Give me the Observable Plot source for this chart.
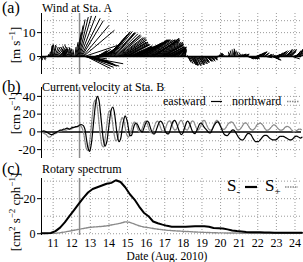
<!DOCTYPE html>
<html>
<head>
<meta charset="utf-8">
<script src="https://cdn.jsdelivr.net/npm/d3@7"></script>
<script src="https://cdn.jsdelivr.net/npm/@observablehq/plot@0.6"></script>
<style>
  html, body { margin: 0; padding: 0; background: #fff; }
  #fig { position: relative; width: 303px; height: 262px; overflow: hidden;
         font-family: "Liberation Serif", "DejaVu Serif", serif; }
  #fig svg { position: absolute; left: 0; }
</style>
</head>
<body>
<div id="fig"></div>
<script>
// ---- time base: records start Aug 10, 09:00 (day-of-month units)
const startDay = 10.375;
const windStep = 1 / 24;     // hourly wind
const currentStep = 1 / 12;  // 2-hourly current

// Wind at Sta. A, eastward (u) component [m/s], one row per 24 h
const windU = [
  -1, 0, 1, 1, 0.5, 0, 0, 0.5, 0.5, 0, 0.5, 1, 0.5, 0.5, 0.5, 1, 1, 1.5, 2, 2.5, 3, 3.5, 3.5, 3,
  3, 3, 2.5, 2, 1.5, 0, -1, -1.5, -2, -2.5, -3, -2.5, -2, -1.5, -1, -1, -1.5, -1, -0.5, 0.5, 1, 2, 2.5, 3,
  4, 5, 6.5, 8, 9, 11, 13, 15, 16, 14, 10, 11, 12, 11, 10, 9, 8, 7, 6, 5.5, 5, 5, 5, 4.5,
  4, 4.5, 5, 6, 6, 5, 5, 5, 5, 5.5, 5, 5.5, 6, 6.5, 7, 7.5, 8, 8, 8, 8.5, 9, 9, 9, 9.5,
  10, 10, 10, 10.5, 11, 11, 11, 10, 10, 10.5, 10, 10, 10, 9.5, 9, 9.5, 10, 9.5, 9, 9, 9, 9.5, 10, 9,
  8, 8.5, 9, 9, 9, 9, 9, 9.5, 10, 10, 10, 10, 10, 10, 10, 10, 10, 10.5, 11, 11, 11, 10.5, 10, 10.5,
  11, 10.5, 10, 10, 10, 9.5, 9, 9.5, 10, 9.5, 9, 9, 9, 8.5, 8, 8, 8, 7.5, 7, 7, 7, 6.5, 6, 6,
  6, 5.5, 5, 5, 5, 4.5, 4, 3.5, 3, 3, 3, 2.5, 2, 1.5, 1, 1, 1, 0.5, 0, 0.5, 1, 1, 1, 1.5,
  2, 2, 2, 2, 2, 1.5, 1.5, 2, 2, 2, 2.5, 2, 2, 2, 1.5, 2, 2, 2, 2, 1.5, 1.5, 2, 2, 1.5,
  1, 1.5, 2, 1.5, 1, 1, 1.5, 1, 1, 0.5, 0.5, 0, 0, 0.5, 1, 1, 1, 0, -1, -0.5, 0, 0, 0.5, 1,
  1, 0.5, 0, -0.5, -1, -0.5, 0, 0.5, 1, 0, -0.5, 0, 0.5, 1, 1, 1.5, 1.5, 2, 2, 1.5, 1.5, 2, 2, 1.5,
  1, 1.5, 2, 2, 2, 2.5, 3, 2.5, 2, 2, 2.5, 2, 2, 2, 2, 2.5, 2.5, 2, 2, 2, 2, 2, 1.5, 2,
  2, 2.5, 2.5, 1.5, 1, 1, 1, 1.5, 2, 2.5, 3, 3, 3, 2, 1, 1.5, 2, 2, 2, 2.5, 2.5, 2, 2, 2,
  2.5, 3, 3, 2.5, 2, 2, 2, 2.5, 3, 2.5, 2, 2.5, 3, 2.5, 2, 2, 2, 1.5, 1.5, 2, 2, 1.5, 1, 1,
  1
];
// Wind at Sta. A, northward (v) component [m/s], one row per 24 h
const windV = [
  -1.2, -1.5, -1.5, -1, -0.5, 0, 0.3, 0.5, 0.5, 1, 2, 3.5, 4.5, 5, 5, 4.8, 4.5, 4, 4, 3.8, 3.5, 3, 3, 3.2,
  3, 2.8, 2.5, 2, 1.5, 1, 1, 2, 2.5, 3.5, 4, 4.5, 5, 4, 3, 3.5, 4, 3.5, 3, 4, 6, 10, 13, 15.5,
  16.5, 17, 17, 16, 15, 13, 11, 5, -3, -4, -5, -4.5, -4, -3.5, -3, -3, -2.5, -2, -1, 0, 1, 1.5, 2, 2,
  2.5, 2.5, 3, 2.5, 2, 2.5, 3, 3, 3, 3.5, 4, 5, 6, 7, 8, 9, 9.5, 10, 10.5, 10.5, 10, 10, 10, 9.5,
  9, 9, 8.5, 8, 8, 7.5, 7, 6.5, 6, 6, 6, 5.5, 5, 5, 5, 5, 4.5, 4, 4, 4, 4, 4, 4, 4,
  4, 4.5, 4.5, 5, 5, 5, 5.5, 6, 6, 6, 6.5, 7, 7, 7, 7, 7, 7, 7, 7, 7, 6.5, 6, 6, 6.5,
  7, 7.5, 7.5, 7.5, 7, 6.5, 6, 6, 6, 5.5, 5, 5, 5, 5, 4.5, 4, 4, 4, 4, 3.5, 3.5, 3, 3, 3,
  3, 3, 3.5, 4, 4, 3.5, 3, 3, 3, 2.5, 2, 2.5, 3, 3.5, 4, 3.5, 3, 2.5, 2, 0.5, -1, -2, -2.5, -3,
  -3, -3.5, -3.5, -3.8, -3.8, -3.5, -3.5, -3.8, -3.8, -3.2, -3, -3.5, -3.5, -3, -2.5, -3, -3, -2.5, -2, -2.5, -2.5, -2, -2, -2,
  -1.5, -2, -2, -1.5, -1.5, -1, -1, -1.5, -1.5, -1, -0.5, 0, 0.5, 1, 1.5, 1, 1, 1.5, 1.5, 1, 0.5, 0.5, 0.5, 0.5,
  0.3, 0.5, 1, 1.5, 2, 2.5, 3, 2.5, 2, 3, 3.3, 2.5, 2, 1.5, 1, 1, 0.8, 1, 1, 1, 0.8, 1, 1, 0.8,
  0.5, 0, -0.5, -1, -1, -1, -1, -1, -0.8, -1, -1, -0.5, 0.5, 1, 1, 1.5, 1.5, 1.5, 1.5, 2, 2, 2, 2, 1.5,
  1.5, 0.5, -0.5, 0, 0.5, 1, 1, 1, 0.5, -0.5, -1.2, -1.5, -1.5, -0.5, 0.5, 1, 1, 1.5, 1.5, 2, 2, 2, 2, 2.5,
  2.5, 2, 2, 2.5, 2.5, 3, 3, 3, 3, 2.5, 2, 0.5, -1, 0, 1, 1.5, 2, 2, 2.5, 3, 3, 3, 3, 2.5,
  2
];

// Current velocity at Sta. B [cm/s], one row per 24 h
const eastward = [
  0, 1, 1, 0, -1, -2, -3, -3, -2, -1, 0, 1,
  2, 2, 3, 3, 4, 4, 3, 4, 5, 5, 6, 6,
  7, 8, 8, 7, 3, -8, -18, -22, -15, 0, 18, 33,
  40, 36, 22, 5, -10, -16, -12, 0, 14, 25, 28, 22,
  8, -5, -11, -8, 3, 13, 18, 14, 5, -4, -4, 2,
  8, 10, 8, 4, 1, 0, 4, 9, 12, 11, 6, 1,
  -2, -2, 2, 7, 11, 12, 10, 5, 0, -2, -2, 2,
  8, 12, 13, 10, 5, 0, -3, -2, 3, 8, 12, 11,
  7, 2, -1, -2, 1, 5, 9, 10, 8, 5, 3, 1,
  -1, -1, 2, 6, 9, 11, 11, 8, 4, 0, -3, -4,
  -4, -2, 0, 2, 2, 0, -3, -6, -8, -9, -9, -7,
  -4, -2, -2, -3, -6, -9, -11, -11, -11, -9, -7, -5,
  -4, -4, -5, -7, -8, -9, -9, -9, -8, -6, -5, -5,
  -5, -6, -7, -8, -9, -9, -8, -6, -5, -5, -6, -7,
  -6
];
const northward = [
  0, -1, -2, -3, -5, -6, -5, -3, -2, -2, -1, 0,
  1, 1, 2, 2, 2, 3, 3, 4, 4, 5, 5, 6,
  6, 7, 5, 0, -10, -19, -21, -12, 4, 22, 34, 36,
  28, 12, -4, -15, -17, -8, 6, 19, 24, 20, 8, -4,
  -10, -8, 1, 11, 16, 13, 5, -3, -6, -3, 3, 9,
  11, 9, 4, 0, 0, 4, 9, 12, 10, 5, 0, -1,
  2, 7, 11, 12, 9, 4, 1, 1, 4, 9, 12, 12,
  9, 4, 2, 3, 7, 11, 13, 11, 6, 3, 2, 5,
  9, 12, 12, 8, 4, 2, 4, 8, 12, 13, 10, 6,
  3, 2, 3, 7, 11, 13, 12, 9, 5, 3, 3, 5,
  8, 10, 11, 11, 9, 6, 3, 2, 3, 5, 8, 10,
  10, 8, 5, 3, 2, 3, 5, 8, 9, 10, 9, 7,
  4, 2, 2, 3, 5, 7, 8, 7, 5, 3, 2, 2,
  3, 5, 6, 6, 5, 3, 1, 0, 1, 2, 3, 3,
  2
];

// Rotary spectrum at the inertial band, 6-hourly [cm^2 s^-2 cph^-1]
const specStart = 10.375;
const specStep = 0.25;
const sMinus = [
  0.3, 0.3, 0.4, 1.5, 3.5, 6.5, 10, 13.5, 17, 20.5, 23.5, 25.5,
  26.5, 27.5, 28.5, 29, 30.5, 29.5, 26.5, 22.5, 19.5, 15.5, 12, 10,
  7, 6, 5.2, 4.5, 4, 4, 4, 4, 4.2, 4.3, 4.3, 4.3,
  4, 3.3, 3.2, 3, 2.5, 1.8, 1.5, 1.3, 1, 0.9, 0.9, 0.8,
  0.7, 0.7, 0.6, 0.6, 0.6, 0.6, 0.5, 0.5, 0.5
];
const sPlus = [
  0.2, 0.2, 0.2, 0.3, 0.6, 1, 1.5, 2, 2.5, 3, 3.5, 3.8,
  4, 4.2, 4.5, 5, 5.5, 6, 6.8, 6.5, 5.5, 4.5, 3.8, 3.5,
  3, 2.6, 2.3, 2, 1.8, 1.6, 1.5, 1.3, 1.2, 1, 0.9, 0.8,
  0.7, 0.6, 0.5, 0.5, 0.4, 0.4, 0.4, 0.3, 0.3, 0.3, 0.3, 0.3,
  0.3, 0.3, 0.3, 0.3, 0.3, 0.3, 0.3, 0.3, 0.3
];

// Axes
const dayTicks = [11, 12, 13, 14, 15, 16, 17, 18, 19, 20, 21, 22, 23, 24];
const stormTime = 12.42;           // typhoon passage marker
const xDomain = [10.375, 24.35];
const windTicks = [0, 10], windGrid = [-5, 5, 10, 15];
const curTicks = [-20, 0, 20, 40], curGrid = [-20, -10, 10, 20, 30, 40];
const specTicks = [0, 20], specGrid = [0, 10, 20, 30];

// ---- records
const wind = windU.map((u, i) => ({ t: startDay + i * windStep, u, v: windV[i] }));
const current = eastward.map((e, i) => ({ t: startDay + i * currentStep, east: e, north: northward[i] }));
const spectrum = sMinus.map((m, i) => ({ t: specStart + i * specStep, minus: m, plus: sPlus[i] }));

// ---- layout
const W = 303, ML = 41, MR = 2;
const font = '"Liberation Serif", "DejaVu Serif", serif';
const baseStyle = { fontFamily: font, fontSize: "13px", color: "black", background: "transparent", overflow: "visible" };
const gridStyle = { stroke: "#9a9a9a", strokeWidth: 1, strokeDasharray: "1,2" };
const fig = document.getElementById("fig");
const fmt = d => String(d);

function place(svg, top) {
  svg.style.top = top + "px";
  fig.appendChild(svg);
}

// Panel (a): stick plot of wind vectors, drawn with equal pixel scale in x and y
const aH = 80, aTop = 13, aBot = 6, aY = [-7.5, 18];
const yPx = (aH - aTop - aBot) / (aY[1] - aY[0]);
const xPx = (W - ML - MR) / (xDomain[1] - xDomain[0]);
const k = yPx / xPx;   // days per (m/s)

const plotA = Plot.plot({
  width: W, height: aH, marginLeft: ML, marginRight: MR, marginTop: aTop, marginBottom: aBot,
  style: baseStyle,
  x: { domain: xDomain, axis: null },
  y: { domain: aY, ticks: windTicks, tickSize: 4, tickPadding: 2, tickFormat: fmt, label: null },
  marks: [
    Plot.ruleX(dayTicks, gridStyle),
    Plot.ruleY(windGrid, gridStyle),
    Plot.ruleX([stormTime], { stroke: "#8c8c8c", strokeWidth: 1.5 }),
    Plot.link(wind, { x1: "t", y1: 0, x2: d => d.t + d.u * k, y2: "v", stroke: "black", strokeWidth: 1 }),
    Plot.ruleY([0], { stroke: "black", strokeWidth: 1.5 }),
    Plot.ruleX([xDomain[0]], { stroke: "black", strokeWidth: 1 })
  ]
});
place(plotA, 0);

// Panel (b): current components
const plotB = Plot.plot({
  width: W, height: 80, marginLeft: ML, marginRight: MR, marginTop: 7, marginBottom: 2,
  style: baseStyle,
  x: { domain: xDomain, axis: null },
  y: { domain: [-30, 50], ticks: curTicks, tickSize: 4, tickPadding: 2, tickFormat: fmt, label: null },
  marks: [
    Plot.ruleX(dayTicks, gridStyle),
    Plot.ruleY(curGrid, gridStyle),
    Plot.ruleX([stormTime], { stroke: "#8c8c8c", strokeWidth: 1.5 }),
    Plot.ruleY([0], { stroke: "black", strokeWidth: 1.5 }),
    Plot.line(current, { x: "t", y: "north", stroke: "#8a8a8a", strokeWidth: 1.3, strokeDasharray: "1.5,1", curve: "catmull-rom" }),
    Plot.line(current, { x: "t", y: "east", stroke: "black", strokeWidth: 1.2, curve: "catmull-rom" }),
    Plot.ruleX([xDomain[0]], { stroke: "black", strokeWidth: 1 })
  ]
});
place(plotB, 80);

// Panel (c): clockwise (S-) and counter-clockwise (S+) rotary spectra
const plotC = Plot.plot({
  width: W, height: 102, marginLeft: ML, marginRight: MR, marginTop: 18, marginBottom: 27,
  style: { ...baseStyle, fontSize: "12px" },
  x: { domain: xDomain, ticks: dayTicks, tickSize: 0, tickPadding: 3.2, tickFormat: fmt, label: null },
  y: { domain: [-1, 31.5], ticks: specTicks, tickSize: 4, tickPadding: 2, tickFormat: fmt, label: null },
  marks: [
    Plot.ruleX(dayTicks, gridStyle),
    Plot.ruleY(specGrid, gridStyle),
    Plot.ruleX([stormTime], { stroke: "#8c8c8c", strokeWidth: 1.5 }),
    Plot.line(spectrum, { x: "t", y: "plus", stroke: "#8a8a8a", strokeWidth: 1.4, strokeDasharray: "1.5,1" }),
    Plot.line(spectrum, { x: "t", y: "minus", stroke: "black", strokeWidth: 2 }),
    Plot.ruleX([xDomain[0]], { stroke: "black", strokeWidth: 1 })
  ]
});
place(plotC, 160);

// ---- titles, unit labels and legends
const ov = d3.select(fig).append("svg")
  .attr("width", W).attr("height", 262)
  .style("top", "0px")
  .style("font-family", font)
  .attr("fill", "black");

function addText(x, y, size, parts, opts = {}) {
  const g = ov.append("g").attr("transform", `translate(${x},${y})` + (opts.rotate ? " rotate(-90)" : ""));
  const t = g.append("text").style("font-size", size + "px").attr("text-anchor", opts.anchor || "start");
  let shift = 0;
  for (const p of parts) {
    const [str, off = 0, sz = size] = Array.isArray(p) ? p : [p];
    t.append("tspan").attr("dy", off - shift).style("font-size", sz + "px").text(str);
    shift = off;
  }
  return t;
}

addText(2, 13, 16, ["(a)"]);
addText(42, 12, 12, ["Wind at Sta. A"]);
addText(2, 92, 16, ["(b)"]);
addText(42, 91, 12, ["Current velocity at Sta. B"]);
addText(2, 174, 16, ["(c)"]);
addText(42, 173, 12, ["Rotary spectrum"]);

addText(20, 45, 13, ["[m s", ["\u22121", -5, 9], ["]", 0]], { rotate: true, anchor: "middle" });
addText(20, 113, 13, ["[cm s", ["\u22121", -5, 9], ["]", 0]], { rotate: true, anchor: "middle" });
addText(20, 212, 13, ["[cm", ["2", -5, 9], [" s", 0], ["\u22122", -5, 9], [" cph", 0], ["\u22121", -5, 9], ["]", 0]],
  { rotate: true, anchor: "middle" });

addText(167, 259.6, 11.5, ["Date (Aug. 2010)"], { anchor: "middle" });

// legend (b)
addText(163, 105, 12, ["eastward"]);
ov.append("line").attr("x1", 211).attr("x2", 222).attr("y1", 101.5).attr("y2", 101.5)
  .attr("stroke", "black").attr("stroke-width", 1.2);
addText(232, 105, 12, ["northward"]);
ov.append("line").attr("x1", 287).attr("x2", 299).attr("y1", 101.5).attr("y2", 101.5)
  .attr("stroke", "#8a8a8a").attr("stroke-width", 1.3).attr("stroke-dasharray", "1.5,1");

// legend (c)
addText(227, 191, 17, ["S", ["-", 4, 11]]);
ov.append("line").attr("x1", 245).attr("x2", 257).attr("y1", 187).attr("y2", 187)
  .attr("stroke", "black").attr("stroke-width", 2.2);
addText(265, 191, 17, ["S", ["+", 4, 11]]);
ov.append("line").attr("x1", 285).attr("x2", 298).attr("y1", 187).attr("y2", 187)
  .attr("stroke", "#8a8a8a").attr("stroke-width", 1.4).attr("stroke-dasharray", "1.5,1");
</script>
</body>
</html>
